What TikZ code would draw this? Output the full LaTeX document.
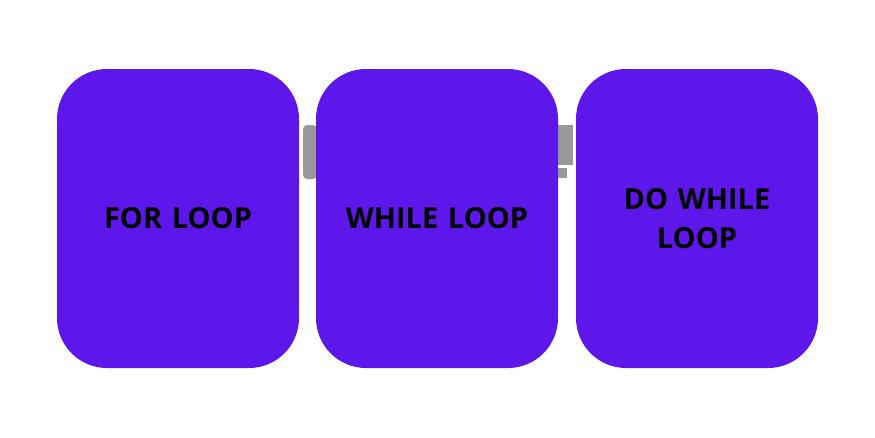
\documentclass[tikz,border=0pt]{standalone}
\usepackage{fontspec}
\setmainfont{Open Sans}
\definecolor{loopviolet}{HTML}{5E17EB}
\definecolor{hiddengray}{HTML}{999999}
\begin{document}
\begin{tikzpicture}[x=1pt, y=-1pt,
    loopbox/.style={rectangle, rounded corners=50pt, fill=loopviolet, minimum width=242pt, minimum height=299pt, align=center, font=\fontsize{29}{39}\selectfont\bfseries, text width=200pt}]

        % Fix the page to the reference size
        \useasboundingbox (0,0) rectangle (875,437);

        % Gray fragments peeking out between the boxes
        \fill[hiddengray, rounded corners=4pt] (303,125) rectangle (317,179);
        \fill[hiddengray] (557,125) rectangle (573,165);
        \fill[hiddengray] (557,168) rectangle (567,178);

        % The three loop boxes
        \node[loopbox] (ForLoop) at (178,218.5) {FOR LOOP};
        \node[loopbox] (WhileLoop) at (437,218.5) {WHILE LOOP};
        \node[loopbox] (DoWhileLoop) at (697,218.5) {DO WHILE\\LOOP};

    \end{tikzpicture}
\end{document}
